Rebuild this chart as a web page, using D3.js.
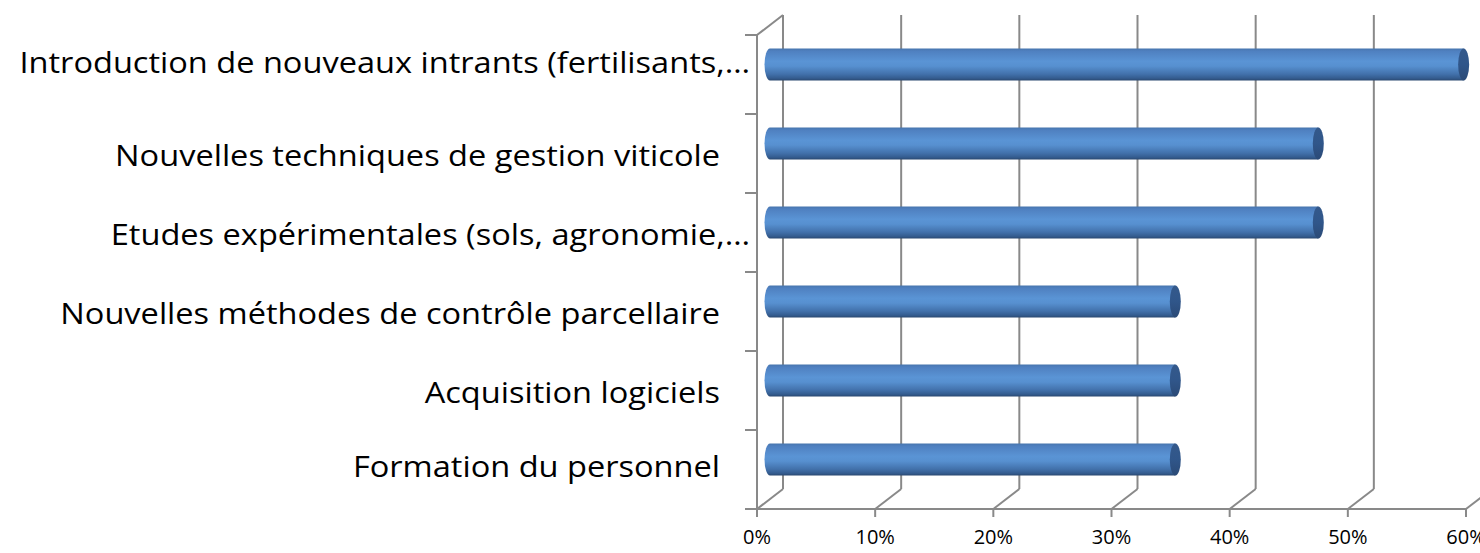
<!DOCTYPE html>
<html><head><meta charset="utf-8">
<script src="https://cdn.jsdelivr.net/npm/d3@7"></script>
<style>html,body{margin:0;padding:0;background:#fff;}svg{display:block;}</style>
</head><body>
<script>
const categories = [
  "Introduction de nouveaux intrants (fertilisants,…",
  "Nouvelles techniques de gestion viticole",
  "Etudes expérimentales (sols, agronomie,…",
  "Nouvelles méthodes de contrôle parcellaire",
  "Acquisition logiciels",
  "Formation du personnel"
];
const values = [58.7, 46.4, 46.4, 34.3, 34.3, 34.3];
const tickValues = [0, 10, 20, 30, 40, 50, 60];
const tickLabels = ["0%", "10%", "20%", "30%", "40%", "50%", "60%"];
const truncated = [true, false, true, false, false, false];

const W = 1480, H = 553;
const svg = d3.select("body").append("svg").attr("width", W).attr("height", H);
svg.append("rect").attr("width", W).attr("height", H).attr("fill", "#fff");

const x = d3.scaleLinear().domain([0, 60]).range([757, 1466]);
const y = d3.scaleBand().domain(categories).range([35, 509]).paddingInner(0).paddingOuter(0);
const depthX = 26, depthY = -20;
const grid = "#898989";

const defs = svg.append("defs");
const g1 = defs.append("linearGradient").attr("id", "cyl").attr("x1", 0).attr("y1", 0).attr("x2", 0).attr("y2", 1);
[[0, "#4775ad"], [0.08, "#4f80c0"], [0.4, "#5a94d5"], [0.55, "#5790d0"], [0.8, "#4271ab"], [0.93, "#345c8f"], [1, "#2a4870"]]
  .forEach(([o, c]) => g1.append("stop").attr("offset", o).attr("stop-color", c));
const g2 = defs.append("linearGradient").attr("id", "cap").attr("x1", 0).attr("y1", 0).attr("x2", 0).attr("y2", 1);
[[0, "#34598b"], [0.5, "#30568a"], [1, "#2b4a76"]]
  .forEach(([o, c]) => g2.append("stop").attr("offset", o).attr("stop-color", c));

const gl = svg.append("g").attr("stroke", grid).attr("stroke-width", 2).attr("fill", "none");
gl.selectAll("line.back").data(tickValues).join("line")
  .attr("x1", d => x(d) + depthX).attr("x2", d => x(d) + depthX)
  .attr("y1", y.range()[1] + depthY).attr("y2", y.range()[0] + depthY);
gl.selectAll("line.floor").data(tickValues).join("line")
  .attr("x1", d => x(d)).attr("x2", d => x(d) + depthX)
  .attr("y1", y.range()[1]).attr("y2", y.range()[1] + depthY);
gl.append("line").attr("x1", x(0)).attr("x2", x(60)).attr("y1", y.range()[1]).attr("y2", y.range()[1]);
gl.selectAll("line.tick").data(tickValues).join("line")
  .attr("x1", d => x(d)).attr("x2", d => x(d))
  .attr("y1", y.range()[1]).attr("y2", y.range()[1] + 8);
gl.append("line").attr("x1", x(0)).attr("x2", x(0)).attr("y1", y.range()[0]).attr("y2", y.range()[1]);
gl.append("line").attr("x1", x(0)).attr("x2", x(0) + depthX).attr("y1", y.range()[0]).attr("y2", y.range()[0] + depthY);
const catTicks = categories.map(c => y(c)).concat([y.range()[1]]);
gl.selectAll("line.ctick").data(catTicks).join("line")
  .attr("x1", x(0) - 12).attr("x2", x(0)).attr("y1", d => d).attr("y2", d => d);

const midX = depthX / 2, midY = depthY / 2;
const barH = 32, rx = 5.5, ry = barH / 2;
const bars = svg.append("g");
categories.forEach((c, i) => {
  const cy = y(c) + y.bandwidth() / 2 + midY;
  const xl = x(0) + midX, xr = x(values[i]) + midX;
  const top = cy - ry, bot = cy + ry;
  bars.append("path")
    .attr("d", `M${xl},${top} L${xr},${top} L${xr},${bot} L${xl},${bot} A${rx},${ry} 0 0 1 ${xl},${top} Z`)
    .attr("fill", "url(#cyl)");
  bars.append("ellipse").attr("cx", xr).attr("cy", cy).attr("rx", rx).attr("ry", ry)
    .attr("fill", "url(#cap)");
});

const font = "'Open Sans', 'Noto Sans', sans-serif";
const labelShift = i => (i === 0 ? -12 : i === categories.length - 1 ? -3 : 2);
const labels = svg.append("g").selectAll("text").data(categories).join("text")
  .attr("x", (d, i) => truncated[i] ? x(0) - 7 : x(0) - 37)
  .attr("y", (d, i) => y(d) + y.bandwidth() / 2 + labelShift(i))
  .attr("dy", "0.35em")
  .attr("text-anchor", "end")
  .attr("font-family", font).attr("font-size", 30).attr("fill", "#000")
  .text(d => d);
labels.each(function () {
  const w = this.getComputedTextLength();
  d3.select(this).attr("textLength", w * 1.085).attr("lengthAdjust", "spacingAndGlyphs");
});

svg.append("g").selectAll("text").data(tickValues).join("text")
  .attr("x", d => x(d)).attr("y", 537).attr("dy", "0.35em")
  .attr("text-anchor", "middle")
  .attr("font-family", font).attr("font-size", 20).attr("fill", "#000")
  .text((d, i) => tickLabels[i]);
</script>
</body></html>
